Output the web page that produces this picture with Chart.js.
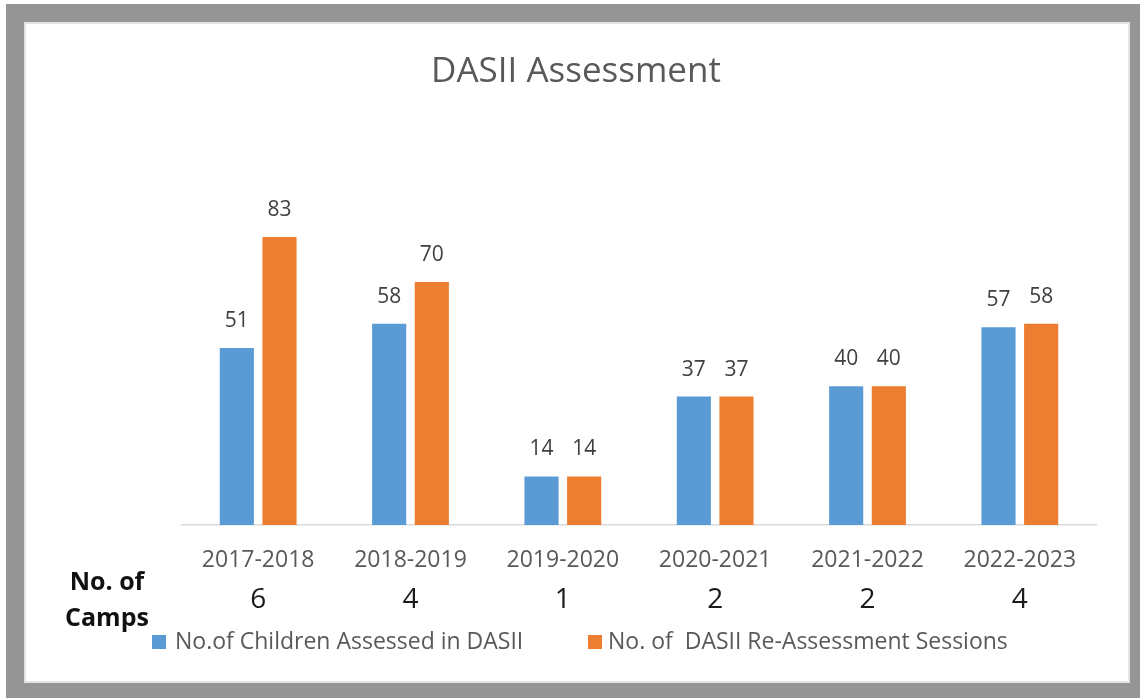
<!DOCTYPE html>
<html>
<head>
<meta charset="utf-8">
<title>DASII Assessment</title>
<script src="https://cdn.jsdelivr.net/npm/chart.js@4.4.0/dist/chart.umd.min.js"></script>
<style>
    html, body { margin: 0; padding: 0; background: #ffffff; }
    .frame {
        position: absolute;
        left: 6px;
        top: 4px;
        width: 1134px;
        height: 694px;
        background: #959595;
    }
    .panel {
        position: absolute;
        left: 18px;
        top: 18px;
        width: 1106px;
        height: 661px;
        background: #ffffff;
        box-shadow: inset 0 0 0 2px #e4e4e4;
    }
    canvas { display: block; }
</style>
</head>
<body>
<div class="frame">
    <div class="panel">
        <canvas id="chart" width="1106" height="661"></canvas>
    </div>
</div>
<script>
// Chart data
const years = ['2017-2018', '2018-2019', '2019-2020', '2020-2021', '2021-2022', '2022-2023'];
const childrenAssessed = [51, 58, 14, 37, 40, 57];
const reAssessments = [83, 70, 14, 37, 40, 58];
const campCounts = [6, 4, 1, 2, 2, 4];
const seriesNames = ['No.of Children Assessed in DASII', 'No. of  DASII Re-Assessment Sessions'];
const chartTitle = 'DASII Assessment';

const BLUE = '#5B9BD5';
const ORANGE = '#ED7D31';
const GREY_TEXT = '#595959';
const FONT = "'Open Sans', 'DejaVu Sans', sans-serif";

// Draws title, value labels, the camps row and the legend
const extrasPlugin = {
    id: 'extras',
    afterDatasetsDraw(chart) {
        const ctx = chart.ctx;
        const xScale = chart.scales.x;

        ctx.save();
        ctx.textAlign = 'center';
        ctx.textBaseline = 'middle';

        // title, centred on the whole panel
        ctx.font = '35px ' + FONT;
        ctx.fillStyle = GREY_TEXT;
        ctx.fillText(chartTitle, 552, 50);

        // value labels above bars
        ctx.font = '21px ' + FONT;
        ctx.fillStyle = '#404040';
        chart.data.datasets.forEach((ds, i) => {
            chart.getDatasetMeta(i).data.forEach((bar, j) => {
                ctx.fillText(ds.data[j], bar.x, bar.y - 27);
            });
        });

        // number of camps under each year
        ctx.font = '28px ' + FONT;
        ctx.fillStyle = '#1a1a1a';
        campCounts.forEach((n, j) => {
            ctx.fillText(n, xScale.getPixelForValue(j), 578);
        });

        ctx.font = 'bold 25px ' + FONT;
        ctx.fillStyle = '#111111';
        ctx.fillText('No. of', 83, 561);
        ctx.fillText('Camps', 83, 597);

        // legend
        ctx.textAlign = 'left';
        ctx.font = '23px ' + FONT;
        const legendItems = [
            { color: BLUE, box: 128, text: 151 },
            { color: ORANGE, box: 564, text: 584 }
        ];
        legendItems.forEach((item, i) => {
            ctx.fillStyle = item.color;
            ctx.fillRect(item.box, 613, 14, 14);
            ctx.fillStyle = GREY_TEXT;
            ctx.fillText(seriesNames[i], item.text, 620);
        });
        ctx.restore();
    }
};

const ctx = document.getElementById('chart').getContext('2d');
const chart = new Chart(ctx, {
    type: 'bar',
    data: {
        labels: years,
        datasets: [
            {
                label: seriesNames[0],
                data: childrenAssessed,
                backgroundColor: BLUE,
                categoryPercentage: 0.56,
                barPercentage: 0.8
            },
            {
                label: seriesNames[1],
                data: reAssessments,
                backgroundColor: ORANGE,
                categoryPercentage: 0.56,
                barPercentage: 0.8
            }
        ]
    },
    options: {
        responsive: false,
        animation: false,
        layout: {
            padding: { left: 158, right: 34, top: 156, bottom: 108 }
        },
        plugins: {
            legend: { display: false },
            tooltip: { enabled: false },
            title: { display: false }
        },
        scales: {
            x: {
                grid: { display: false, drawTicks: false },
                border: { display: true, color: '#d9d9d9', width: 1.5 },
                ticks: {
                    color: GREY_TEXT,
                    font: { family: FONT, size: 23 },
                    padding: 22,
                    maxRotation: 0
                },
                afterFit(scale) { scale.height = 50; }
            },
            y: {
                display: false,
                min: 0,
                max: 100
            }
        }
    },
    plugins: [extrasPlugin]
});
</script>
</body>
</html>
